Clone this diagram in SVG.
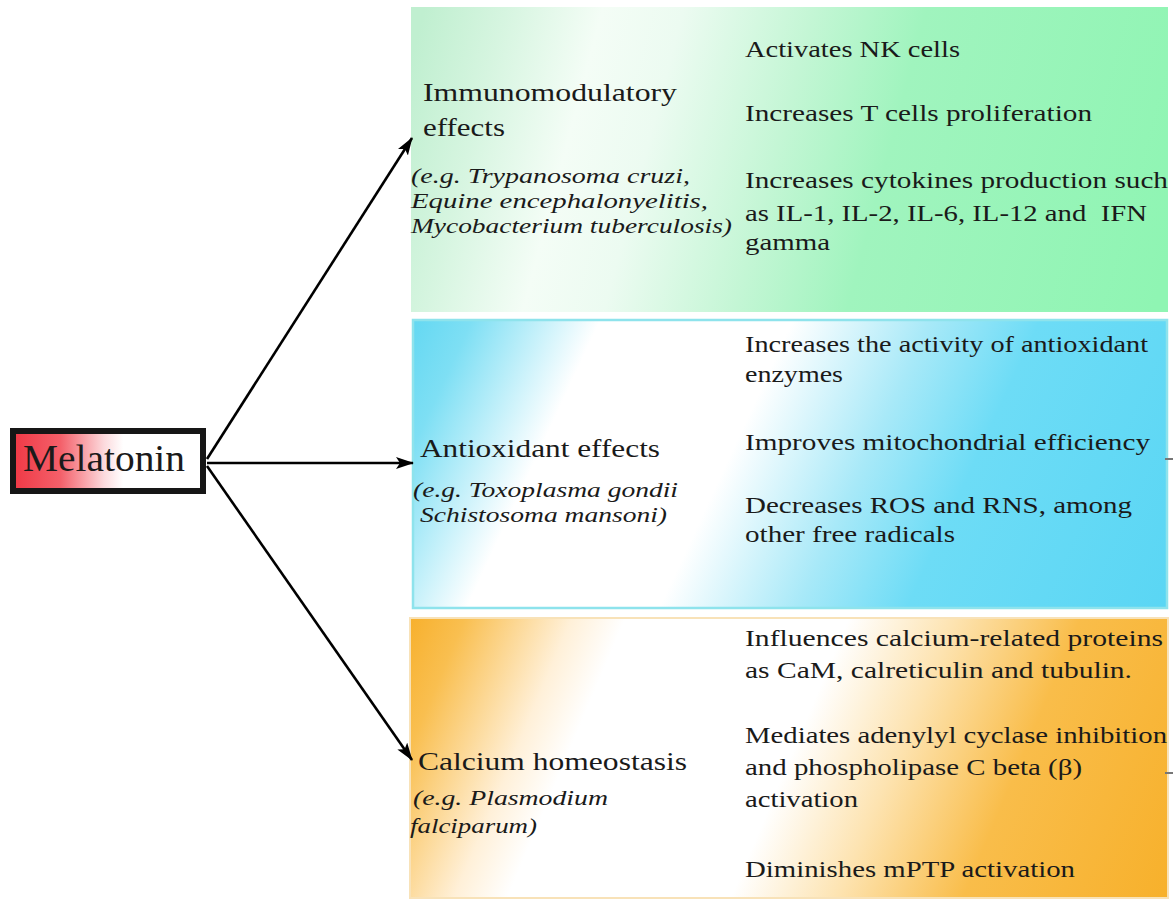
<svg xmlns="http://www.w3.org/2000/svg" width="1176" height="900" viewBox="0 0 1176 900">
<defs>
<linearGradient id="gMel" x1="0" y1="0" x2="1" y2="0">
<stop offset="0" stop-color="#f03845"/>
<stop offset="0.25" stop-color="#f4606a"/>
<stop offset="0.48" stop-color="#fcdadd"/>
<stop offset="0.58" stop-color="#ffffff"/>
<stop offset="1" stop-color="#ffffff"/>
</linearGradient>
<linearGradient id="gGreen" gradientUnits="userSpaceOnUse" x1="411" y1="60" x2="1168" y2="260">
<stop offset="0" stop-color="#c0efd0"/>
<stop offset="0.1" stop-color="#d6f5e0"/>
<stop offset="0.22" stop-color="#f4fdf6"/>
<stop offset="0.32" stop-color="#ecfbf1"/>
<stop offset="0.48" stop-color="#c4f6d5"/>
<stop offset="0.62" stop-color="#a0f4be"/>
<stop offset="1" stop-color="#8ff5b3"/>
</linearGradient>
<linearGradient id="gBlue" gradientUnits="userSpaceOnUse" x1="413" y1="250" x2="1167" y2="600">
<stop offset="0" stop-color="#55d4f1"/>
<stop offset="0.1" stop-color="#7edff4"/>
<stop offset="0.24" stop-color="#ffffff"/>
<stop offset="0.45" stop-color="#ffffff"/>
<stop offset="0.6" stop-color="#a8e9f8"/>
<stop offset="0.72" stop-color="#6ddcf6"/>
<stop offset="1" stop-color="#5ad6f4"/>
</linearGradient>
<linearGradient id="gOrange" gradientUnits="userSpaceOnUse" x1="410" y1="600" x2="1168" y2="920">
<stop offset="0" stop-color="#f7ae28"/>
<stop offset="0.07" stop-color="#f9bf50"/>
<stop offset="0.19" stop-color="#fff0d8"/>
<stop offset="0.25" stop-color="#ffffff"/>
<stop offset="0.5" stop-color="#ffffff"/>
<stop offset="0.62" stop-color="#fde3b0"/>
<stop offset="0.76" stop-color="#f9bd4a"/>
<stop offset="1" stop-color="#f7b02a"/>
</linearGradient>
<marker id="arr" viewBox="0 0 18 12" refX="17" refY="6" markerWidth="18" markerHeight="12" markerUnits="userSpaceOnUse" orient="auto">
<path d="M0,0 L18,6 L0,12 L4,6 Z" fill="#000"/>
</marker>
<style>
.t{font-family:"Liberation Serif","Times New Roman",serif;fill:#1a1a1a;}
.r{font-size:24px;}
.h{font-size:26px;}
.i{font-size:22px;font-style:italic;}
.c{stroke:#000;stroke-width:2.6;fill:none;marker-end:url(#arr);}
.tick{stroke:#777;stroke-width:2;}
</style>
</defs>
<rect width="1176" height="900" fill="#ffffff"/>

<g id="immuno">
<rect x="411" y="7" width="757" height="305" fill="url(#gGreen)"/>
<text class="t h" x="423" y="101" textLength="254" lengthAdjust="spacingAndGlyphs">Immunomodulatory</text>
<text class="t h" x="423" y="136" textLength="82" lengthAdjust="spacingAndGlyphs">effects</text>
<text class="t i" x="411" y="183" textLength="279" lengthAdjust="spacingAndGlyphs">(e.g. Trypanosoma cruzi,</text>
<text class="t i" x="411" y="208" textLength="297" lengthAdjust="spacingAndGlyphs">Equine encephalonyelitis,</text>
<text class="t i" x="411" y="233" textLength="321" lengthAdjust="spacingAndGlyphs">Mycobacterium tuberculosis)</text>
<text class="t r" x="745" y="57" textLength="215" lengthAdjust="spacingAndGlyphs">Activates NK cells</text>
<text class="t r" x="745" y="121" textLength="347" lengthAdjust="spacingAndGlyphs">Increases T cells proliferation</text>
<text class="t r" x="745" y="188" textLength="423" lengthAdjust="spacingAndGlyphs">Increases cytokines production such</text>
<text class="t r" x="745" y="221" textLength="402" lengthAdjust="spacingAndGlyphs" xml:space="preserve">as IL-1, IL-2, IL-6, IL-12 and  IFN</text>
<text class="t r" x="745" y="250" textLength="85" lengthAdjust="spacingAndGlyphs">gamma</text>
</g>

<g id="antioxidant">
<rect x="413" y="320" width="754" height="288" fill="url(#gBlue)" stroke="#8ee3ec" stroke-width="2.5"/>
<text class="t h" x="420" y="457" textLength="240" lengthAdjust="spacingAndGlyphs">Antioxidant effects</text>
<text class="t i" x="413" y="497" textLength="265" lengthAdjust="spacingAndGlyphs">(e.g. Toxoplasma gondii</text>
<text class="t i" x="420" y="522" textLength="247" lengthAdjust="spacingAndGlyphs">Schistosoma mansoni)</text>
<text class="t r" x="745" y="352" textLength="403" lengthAdjust="spacingAndGlyphs">Increases the activity of antioxidant</text>
<text class="t r" x="745" y="382" textLength="98" lengthAdjust="spacingAndGlyphs">enzymes</text>
<text class="t r" x="745" y="450" textLength="405" lengthAdjust="spacingAndGlyphs">Improves mitochondrial efficiency</text>
<text class="t r" x="745" y="513" textLength="387" lengthAdjust="spacingAndGlyphs">Decreases ROS and RNS, among</text>
<text class="t r" x="745" y="542" textLength="210" lengthAdjust="spacingAndGlyphs">other free radicals</text>
<line class="tick" x1="1165" y1="459" x2="1173" y2="459"/>
</g>

<g id="calcium">
<rect x="410" y="618" width="758" height="280" fill="url(#gOrange)" stroke="#f8e2b8" stroke-width="2"/>
<text class="t h" x="418" y="770" textLength="269" lengthAdjust="spacingAndGlyphs">Calcium homeostasis</text>
<text class="t i" x="413" y="805" textLength="195" lengthAdjust="spacingAndGlyphs">(e.g. Plasmodium</text>
<text class="t i" x="410" y="833" textLength="127" lengthAdjust="spacingAndGlyphs">falciparum)</text>
<text class="t r" x="745" y="646" textLength="418" lengthAdjust="spacingAndGlyphs">Influences calcium-related proteins</text>
<text class="t r" x="745" y="678" textLength="387" lengthAdjust="spacingAndGlyphs">as CaM, calreticulin and tubulin.</text>
<text class="t r" x="745" y="743" textLength="422" lengthAdjust="spacingAndGlyphs">Mediates adenylyl cyclase inhibition</text>
<text class="t r" x="745" y="775" textLength="337" lengthAdjust="spacingAndGlyphs">and phospholipase C beta (β)</text>
<text class="t r" x="745" y="807" textLength="113" lengthAdjust="spacingAndGlyphs">activation</text>
<text class="t r" x="745" y="877" textLength="330" lengthAdjust="spacingAndGlyphs">Diminishes mPTP activation</text>
<line class="tick" x1="1165" y1="773" x2="1173" y2="773"/>
</g>

<g id="melatonin">
<rect x="13" y="431" width="190" height="60" fill="url(#gMel)" stroke="#161616" stroke-width="6"/>
<text class="t" x="23" y="471" font-size="38" textLength="162" lengthAdjust="spacingAndGlyphs">Melatonin</text>
</g>

<g id="connectors">
<line class="c" x1="207" y1="459" x2="412" y2="138"/>
<line class="c" x1="207" y1="463" x2="413" y2="463"/>
<line class="c" x1="207" y1="466" x2="412" y2="760"/>
</g>
</svg>
